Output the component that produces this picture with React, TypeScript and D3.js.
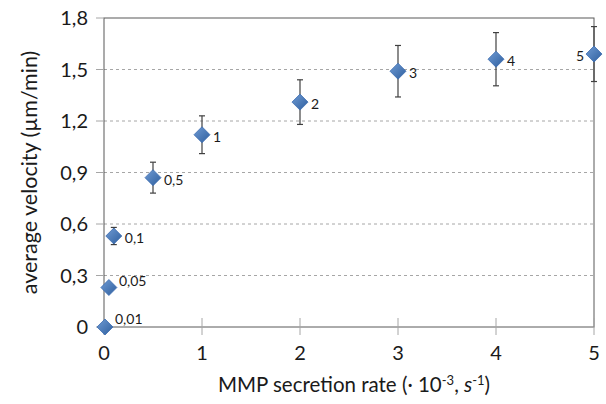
import React from 'react';
import * as d3 from 'd3';

// MMP secretion rate (x 10^-3 s^-1) vs average velocity
const rates = [0.01, 0.05, 0.1, 0.5, 1, 2, 3, 4, 5];
const velocities = [0.0, 0.23, 0.53, 0.87, 1.12, 1.31, 1.49, 1.56, 1.59];
const errors = [0, 0, 0.05, 0.09, 0.11, 0.13, 0.15, 0.155, 0.16];
const pointLabels = ['0,01', '0,05', '0,1', '0,5', '1', '2', '3', '4', '5'];
const xTicks = [0, 1, 2, 3, 4, 5];
const yTicks = [0, 0.3, 0.6, 0.9, 1.2, 1.5, 1.8];

const W = 606;
const H = 404;
const margin = { left: 104, right: 12, top: 18, bottom: 77 };
const font = 'Lato, "Open Sans", sans-serif';

export default function App() {
  const x = d3.scaleLinear().domain([0, 5]).range([margin.left, W - margin.right]);
  const y = d3.scaleLinear().domain([0, 1.8]).range([H - margin.bottom, margin.top]);
  const x0 = x(0), x1 = x(5), y0 = y(0), y1 = y(1.8);
  const fmt = (v: number) => (v === 0 ? '0' : d3.format('.1f')(v).replace('.', ','));

  // label placement relative to the marker
  const labelPos = (i: number) => {
    if (i === 0) return { dx: 10, dy: -8, anchor: 'start' };
    if (i === 1) return { dx: 10, dy: -6, anchor: 'start' };
    if (i === 8) return { dx: -10, dy: 2, anchor: 'end' };
    return { dx: 11, dy: 2, anchor: 'start' };
  };

  return (
    <svg width={W} height={H} style={{ position: 'absolute', left: 0, top: 0, background: '#fff' }}>
      <defs>
        <linearGradient id="dia" x1="0" y1="0" x2="1" y2="1">
          <stop offset="0" stopColor="#6f9bd4" />
          <stop offset="1" stopColor="#2f5f9e" />
        </linearGradient>
      </defs>
      {/* grid */}
      {yTicks.slice(1, -1).map(t => (
        <line key={t} x1={x0} x2={x1} y1={y(t)} y2={y(t)} stroke="#a6a6a6" strokeDasharray="3,3" strokeWidth={1} />
      ))}
      {/* frame */}
      <rect x={x0} y={y1} width={x1 - x0} height={y0 - y1} fill="none" stroke="#595959" strokeWidth={1} />
      {/* y ticks */}
      {yTicks.map(t => (
        <g key={t}>
          <line x1={x0 - 8} x2={x0} y1={y(t)} y2={y(t)} stroke="#a6a6a6" />
          <text x={x0 - 16} y={y(t)} dy="0.35em" textAnchor="end" fontSize={20} fontFamily={font} fill="#1a1a1a">{fmt(t)}</text>
        </g>
      ))}
      {/* x ticks */}
      {xTicks.map(t => (
        <g key={t}>
          <line x1={x(t)} x2={x(t)} y1={y0 - 9} y2={y0 + 8} stroke="#a6a6a6" />
          <text x={x(t)} y={y0 + 33} textAnchor="middle" fontSize={20} fontFamily={font} fill="#1a1a1a">{t}</text>
        </g>
      ))}
      {/* error bars */}
      {rates.map((r, i) => errors[i] > 0 && (
        <g key={'e' + i} stroke="#404040" strokeWidth={1.2}>
          <line x1={x(r)} x2={x(r)} y1={y(velocities[i] - errors[i])} y2={y(velocities[i] + errors[i])} />
          <line x1={x(r) - 3} x2={x(r) + 3} y1={y(velocities[i] - errors[i])} y2={y(velocities[i] - errors[i])} />
          <line x1={x(r) - 3} x2={x(r) + 3} y1={y(velocities[i] + errors[i])} y2={y(velocities[i] + errors[i])} />
        </g>
      ))}
      {/* markers */}
      {rates.map((r, i) => {
        const cx = x(r), cy = y(velocities[i]);
        return (
          <path key={'m' + i} d={`M${cx},${cy - 8}L${cx + 8},${cy}L${cx},${cy + 8}L${cx - 8},${cy}Z`}
            fill="url(#dia)" stroke="#3a6bb0" strokeWidth={0.8} />
        );
      })}
      {/* point labels */}
      {rates.map((r, i) => {
        const p = labelPos(i);
        return (
          <text key={'l' + i} x={x(r) + p.dx} y={y(velocities[i]) + p.dy} dy="0.35em" textAnchor={p.anchor as any}
            fontSize={14} fontFamily={font} fill="#1a1a1a">{pointLabels[i]}</text>
        );
      })}
      {/* axis titles */}
      <text x={(x0 + x1) / 2 + 5} y={H - 12} textAnchor="middle" fontSize={20.5} fontFamily={font} fill="#1a1a1a">
        MMP secretion rate (· 10<tspan fontSize={13} dy={-7}>-3</tspan><tspan dy={7}>, </tspan><tspan fontStyle="italic">s</tspan><tspan fontSize={13} dy={-7}>-1</tspan><tspan dy={7}>)</tspan>
      </text>
      <text transform={`translate(37,${(y0 + y1) / 2}) rotate(-90)`} textAnchor="middle" fontSize={21.5} fontFamily={font} fill="#1a1a1a">
        average velocity (µm/min)
      </text>
    </svg>
  );
}
